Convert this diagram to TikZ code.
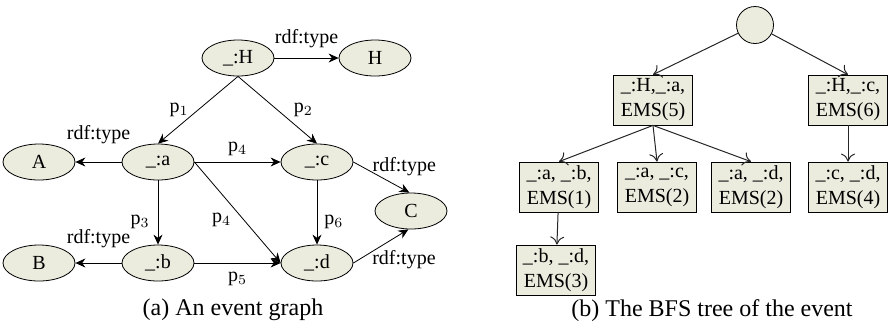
\documentclass[tikz,border=0pt]{standalone}
\usepackage{fontspec}
\setmainfont{Liberation Serif}
\usetikzlibrary{math,arrows.meta,shapes.geometric}
\definecolor{nodefill}{RGB}{235,235,222}

\begin{document}
\begin{tikzpicture}[x=0.5pt,y=-0.5pt,
    ent/.style={ellipse,draw,fill=nodefill,inner sep=0pt,minimum width=36pt,minimum height=18pt,font=\fontsize{10}{12}\selectfont},
    pairbox/.style={rectangle,draw,fill=nodefill,inner sep=0pt,minimum width=39.5pt,minimum height=25pt,align=center,font=\fontsize{10}{12.5}\selectfont},
    lbl/.style={font=\fontsize{10}{12}\selectfont,inner sep=1pt},
    sedge/.style={-{Stealth[length=5pt,width=4.5pt]}},
    tedge/.style={-{To[length=4pt,width=7pt]},black!85,line width=0.5pt},
    capt/.style={font=\fontsize{12}{14}\selectfont}]
            \useasboundingbox (0,0) rectangle (889,329);
            \tikzmath{\xl = 39; \xa = 158; \xc = 317; \yt = 58; \ym = 162; \yb = 263;}

            % event graph
            \node[ent] (hb) at (238, \yt) {\_:H};
            \node[ent] (H) at (375, \yt) {H};
            \node[ent] (A) at (\xl, \ym) {A};
            \node[ent] (a) at (\xa, \ym) {\_:a};
            \node[ent] (c) at (\xc, \ym) {\_:c};
            \node[ent] (C) at (411, 211) {C};
            \node[ent] (B) at (\xl, \yb) {B};
            \node[ent] (b) at (\xa, \yb) {\_:b};
            \node[ent] (d) at (\xc, \yb) {\_:d};

            \draw[sedge] (hb)--node[lbl, above=4pt]{rdf:type}(H);
            \draw[sedge] (hb.south)--node[lbl, left=3.5pt]{p$_1$}(a.north);
            \draw[sedge] (hb.south)--node[lbl, right=7pt]{p$_2$}(c.north);
            \draw[sedge] (a)--node[lbl, above=8pt]{rdf:type}(A);
            \draw[sedge] (a)--node[lbl, above=2pt]{p$_4$}(c);
            \draw[sedge] (a)--node[lbl, pos=0.65, left=3pt]{p$_3$}(b);
            \draw[sedge] (a.east)--node[lbl, pos=0.57, left=5pt]{p$_4$}(d.west);
            \draw[sedge] (c)--node[lbl, pos=0.65, right=2.5pt]{p$_6$}(d);
            \draw[sedge] (c.east)--node[lbl, pos=0.3, anchor=west, yshift=2.5pt]{rdf:type}(C.95);
            \draw[sedge] (b)--node[lbl, above=6.5pt]{rdf:type}(B);
            \draw[sedge] (b)--node[lbl, below=3.5pt]{p$_5$}(d);
            \draw[sedge] (d.east)--node[lbl, pos=0.3, anchor=west, yshift=-3.5pt]{rdf:type}(C.262);

            \node[capt] (capa) at (233, 310) {(a) An event graph};

            % BFS tree
            \node[circle,draw,fill=nodefill,minimum size=18.5pt,inner sep=0pt] (root) at (755, 25) {};
            \node[pairbox] (ha) at (653, 100) {\_:H,\_:a,\\EMS(5)};
            \node[pairbox] (hc) at (848, 100) {\_:H,\_:c,\\EMS(6)};
            \node[pairbox] (ab) at (559, 187) {\_:a, \_:b,\\EMS(1)};
            \node[pairbox] (ac) at (657, 187) {\_:a, \_:c,\\EMS(2)};
            \node[pairbox] (ad) at (751, 187) {\_:a, \_:d,\\EMS(2)};
            \node[pairbox] (cd) at (848, 187) {\_:c, \_:d,\\EMS(4)};
            \node[pairbox] (bd) at (556, 270) {\_:b, \_:d,\\EMS(3)};

            \draw[tedge] (root)--(ha.north);
            \draw[tedge] (root)--(hc.north);
            \draw[tedge] (ha.south)--(ab.north);
            \draw[tedge] (ha.south)--(ac.north);
            \draw[tedge] (ha.south)--(ad.north);
            \draw[tedge] (hc)--(cd);
            \draw[tedge] (ab)--(bd);

            \node[capt] (capb) at (712, 311) {(b) The BFS tree of the event};
        \end{tikzpicture}
\end{document}
